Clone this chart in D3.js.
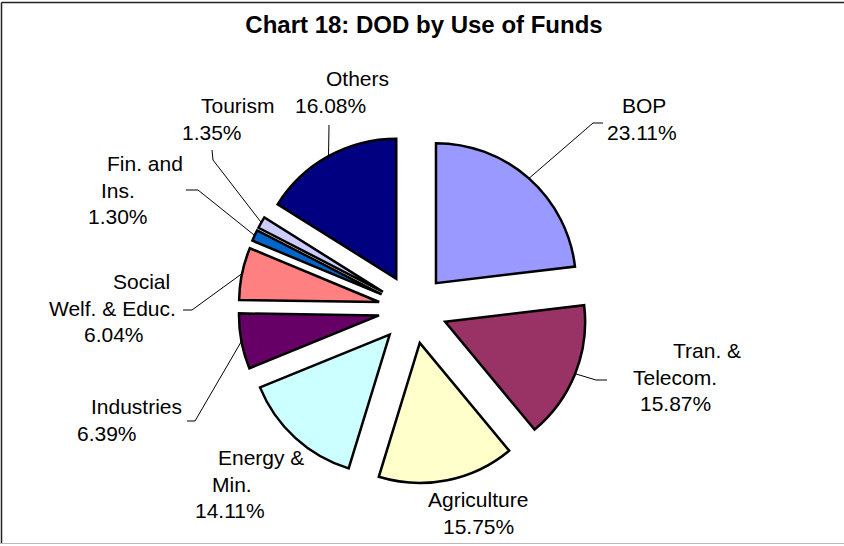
<!DOCTYPE html>
<html>
<head>
<meta charset="utf-8">
<script src="https://cdn.jsdelivr.net/npm/d3@7"></script>
<style>
	body { margin: 0; background: #fff; }
	svg { display: block; font-family: "Liberation Sans", Arial, sans-serif; }
</style>
</head>
<body>
<div id="chart"></div>
<script>
//// Exploded pie: DOD by use of funds ////

// Data
const categories = ["BOP", "Tran. & Telecom.", "Agriculture", "Energy & Min.", "Industries",
	"Social Welf. & Educ.", "Fin. and Ins.", "Tourism", "Others"];
const shares = [23.11, 15.87, 15.75, 14.11, 6.39, 6.04, 1.30, 1.35, 16.08];
// label text as wrapped in the original
const labelLines = [
	["BOP"], ["Tran. &", "Telecom."], ["Agriculture"], ["Energy &", "Min."], ["Industries"],
	["Social", "Welf. & Educ."], ["Fin. and", "Ins."], ["Tourism"], ["Others"]
];

// Styles / layout (kept apart from the data)
const colors = ["#9999FF", "#993366", "#FFFFCC", "#CCFFFF", "#660066",
	"#FF8080", "#0066CC", "#CCCCFF", "#000080"];
const width = 844, height = 546;
const cx = 413, cy = 309, radius = 140, explode = 34.6;
const lineGap = 26.5;
// start x of each text line (last one is the percent) and first baseline
const labelX = [
	[622, 607], [673, 633, 640], [428, 443], [218, 212, 195], [91, 77],
	[113, 49, 84], [107, 101, 88], [201, 182], [326, 295]
];
const labelY = [113, 358, 507, 465, 414, 289, 171, 113, 86];
// leader line bend points (null = no leader)
const leaders = [
	[[603, 123], [593, 123]],
	[[607, 380], [596, 380]],
	null,
	null,
	[[187, 421], [195, 421]],
	[[183, 310], [192, 310]],
	[[186, 190], [198, 190]],
	[[212, 150], [213, 160]],
	[[329, 125]]
];

const svg = d3.select("#chart").append("svg")
	.attr("width", width)
	.attr("height", height);

svg.append("rect").attr("width", width).attr("height", height).attr("fill", "#fff");

// frame (chart box runs off the right edge)
svg.append("line").attr("x1", 1.5).attr("x2", width).attr("y1", 2.5).attr("y2", 2.5)
	.attr("stroke", "#222").attr("stroke-width", 1.5);
svg.append("line").attr("x1", 1.5).attr("x2", 1.5).attr("y1", 2.5).attr("y2", 543.5)
	.attr("stroke", "#222").attr("stroke-width", 1.5);
svg.append("line").attr("x1", 0).attr("x2", width).attr("y1", 543.5).attr("y2", 543.5)
	.attr("stroke", "#bbb").attr("stroke-width", 1);

// title
svg.append("text")
	.attr("x", 424).attr("y", 33)
	.attr("text-anchor", "middle")
	.attr("font-size", 24).attr("font-weight", "bold")
	.text("Chart 18: DOD by Use of Funds");

const pie = d3.pie().sort(null).value(d => d)(shares);
const arc = d3.arc().innerRadius(0).outerRadius(radius);

function dir(d) {
	const a = (d.startAngle + d.endAngle) / 2;
	return [Math.sin(a), -Math.cos(a)];
}

const g = svg.append("g").attr("transform", `translate(${cx},${cy})`);

g.selectAll("path")
	.data(pie)
	.enter()
	.append("path")
	.attr("d", arc)
	.attr("transform", d => {
		const [dx, dy] = dir(d);
		return `translate(${dx * explode},${dy * explode})`;
	})
	.attr("fill", (d, i) => colors[i])
	.attr("stroke", "#000")
	.attr("stroke-width", 2.5)
	.attr("stroke-linejoin", "miter");

// leader lines: bend points -> middle of the slice's arc
const line = d3.line();
pie.forEach((d, i) => {
	if (!leaders[i]) return;
	const [dx, dy] = dir(d);
	const end = [cx + dx * (explode + radius), cy + dy * (explode + radius)];
	svg.append("path")
		.attr("d", line(leaders[i].concat([end])))
		.attr("fill", "none")
		.attr("stroke", "#000")
		.attr("stroke-width", 1);
});

// labels
pie.forEach((d, i) => {
	const lines = labelLines[i].concat([d3.format(".2f")(shares[i]) + "%"]);
	const t = svg.append("text").attr("font-size", 21).attr("fill", "#000");
	lines.forEach((s, j) => {
		t.append("tspan")
			.attr("x", labelX[i][j])
			.attr("y", labelY[i] + j * lineGap)
			.text(s);
	});
});
</script>
</body>
</html>
